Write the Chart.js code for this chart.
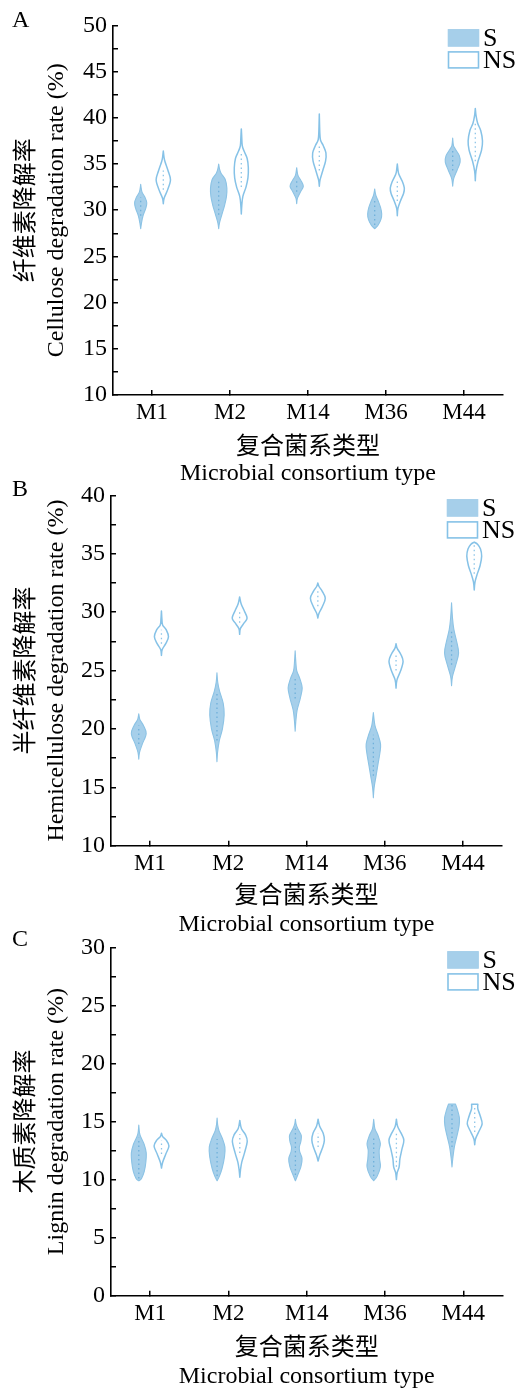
<!DOCTYPE html>
<html>
<head>
<meta charset="utf-8">
<script src="https://cdn.jsdelivr.net/npm/chart.js@4.4.1/dist/chart.umd.min.js"></script>
<style>
  html, body { margin: 0; padding: 0; background: #fff; width: 521px; height: 1388px; overflow: hidden; }
  canvas { position: absolute; left: 0; }
</style>
</head>
<body>
<canvas id="panelA" width="521" height="490" style="top:0px"></canvas>
<canvas id="panelB" width="521" height="470" style="top:470px"></canvas>
<canvas id="panelC" width="521" height="466" style="top:922px"></canvas>
<script>
// Consortium types on the x axis and the two treatments
const categories = ['M1', 'M2', 'M14', 'M36', 'M44'];
const seriesLabels = ['S', 'NS'];

// Density profiles: [degradation rate (%), relative density] from low to high value,
// one profile per consortium type.
const celluloseS = [
  [[28.0,0],[28.6,0.1],[29.4,0.3],[30.2,0.65],[30.8,0.78],[31.4,0.55],[31.9,0.2],[32.3,0.08],[32.8,0]],
  [[28.0,0],[28.6,0.1],[29.5,0.4],[30.5,0.75],[31.5,1.0],[32.4,1.05],[33.3,0.85],[34.0,0.3],[34.5,0.1],[35.0,0]],
  [[30.7,0],[31.3,0.1],[32.0,0.5],[32.6,0.85],[33.2,0.55],[33.8,0.15],[34.6,0]],
  [[28.0,0],[28.4,0.45],[29.0,0.8],[29.6,0.9],[30.3,0.75],[31.0,0.45],[31.6,0.15],[32.3,0]],
  [[32.6,0],[33.4,0.12],[34.3,0.55],[35.2,0.95],[35.9,0.85],[36.6,0.35],[37.0,0.1],[37.8,0]]
];
const celluloseNS = [
  [[30.7,0],[31.3,0.1],[32.2,0.55],[33.3,0.92],[34.3,0.6],[35.3,0.2],[35.8,0.08],[36.4,0]],
  [[29.6,0],[30.5,0.06],[31.5,0.2],[32.5,0.6],[33.5,0.85],[34.6,0.9],[35.6,0.75],[36.4,0.35],[37.0,0.12],[38.0,0.05],[38.8,0]],
  [[32.6,0],[33.3,0.1],[34.3,0.45],[35.3,0.8],[36.2,0.85],[37.0,0.5],[37.6,0.15],[38.5,0.06],[40.4,0]],
  [[29.4,0],[30.2,0.08],[31.0,0.4],[31.8,0.8],[32.4,0.9],[33.1,0.65],[33.9,0.2],[34.4,0.08],[35.0,0]],
  [[33.2,0],[34.2,0.08],[35.3,0.35],[36.5,0.8],[37.5,0.92],[38.6,0.7],[39.4,0.3],[40.2,0.1],[41.0,0]]
];
const hemicelluloseS = [
  [[17.4,0],[18.0,0.1],[18.7,0.45],[19.6,0.95],[20.3,0.6],[20.8,0.15],[21.3,0]],
  [[17.2,0],[18.0,0.08],[19.0,0.3],[20.0,0.7],[21.2,0.92],[22.2,0.8],[23.2,0.35],[24.0,0.1],[24.8,0]],
  [[19.8,0],[20.6,0.08],[21.6,0.25],[22.6,0.65],[23.5,0.9],[24.3,0.6],[25.0,0.2],[25.8,0.08],[26.7,0]],
  [[14.1,0],[15.0,0.1],[16.0,0.35],[17.0,0.6],[18.0,0.85],[18.7,0.92],[19.5,0.6],[20.3,0.2],[21.4,0]],
  [[23.7,0],[24.5,0.12],[25.5,0.55],[26.5,0.9],[27.5,0.65],[28.5,0.3],[29.5,0.12],[30.8,0]]
];
const hemicelluloseNS = [
  [[26.3,0],[26.8,0.1],[27.3,0.55],[27.9,0.9],[28.5,0.6],[28.9,0.15],[29.4,0.06],[30.1,0]],
  [[28.1,0],[28.6,0.1],[29.1,0.6],[29.5,0.95],[30.1,0.6],[30.7,0.2],[31.3,0]],
  [[29.5,0],[29.9,0.15],[30.5,0.6],[31.2,0.95],[31.8,0.55],[32.2,0.15],[32.5,0]],
  [[23.5,0],[24.2,0.12],[25.0,0.6],[25.8,0.9],[26.4,0.6],[26.9,0.15],[27.3,0]],
  [[31.9,0],[32.6,0.1],[33.3,0.4],[34.0,0.75],[34.8,0.95],[35.4,0.8],[35.8,0.45],[36.0,0]]
];
const ligninS = [
  [[9.9,0],[10.1,0.35],[10.7,0.7],[11.5,0.9],[12.3,0.95],[13.0,0.7],[13.6,0.3],[14.0,0.1],[14.7,0]],
  [[9.9,0],[10.3,0.3],[11.0,0.65],[12.0,0.95],[12.8,1.0],[13.5,0.7],[14.2,0.25],[14.7,0.08],[15.3,0]],
  [[9.9,0],[10.4,0.3],[11.1,0.7],[11.8,0.85],[12.4,0.55],[12.8,0.5],[13.3,0.7],[13.8,0.75],[14.4,0.3],[14.8,0.08],[15.2,0]],
  [[9.9,0],[10.3,0.45],[11.1,0.85],[11.8,0.75],[12.5,0.7],[13.1,0.85],[13.8,0.55],[14.4,0.15],[15.2,0]],
  [[11.1,0],[11.8,0.1],[12.8,0.3],[13.8,0.65],[14.6,0.9],[15.3,0.95],[16.0,0.7],[16.5,0.45]]
];
const ligninNS = [
  [[11.0,0],[11.5,0.15],[12.2,0.55],[12.9,0.95],[13.4,0.6],[13.7,0.15],[14.0,0]],
  [[10.2,0],[10.8,0.08],[11.5,0.25],[12.3,0.6],[13.3,0.95],[13.9,0.7],[14.4,0.2],[15.1,0]],
  [[11.6,0],[12.1,0.2],[12.8,0.6],[13.4,0.8],[14.0,0.65],[14.6,0.2],[15.2,0]],
  [[10.0,0],[10.6,0.1],[11.1,0.35],[11.8,0.45],[12.6,0.7],[13.4,0.95],[14.0,0.6],[14.6,0.15],[15.2,0]],
  [[13.0,0],[13.5,0.1],[14.1,0.5],[14.8,0.95],[15.5,0.7],[16.1,0.4],[16.5,0.4]]
];

// Value axis ranges and tick labels
const celluloseRange = [10, 50];
const hemicelluloseRange = [10, 40];
const ligninRange = [0, 30];
const majorStep = 5;
const minorStep = 2.5;

const xTitle = ['复合菌系类型', 'Microbial consortium type'];
const celluloseTitle = ['纤维素降解率', 'Cellulose degradation rate (%)'];
const hemicelluloseTitle = ['半纤维素降解率', 'Hemicellulose degradation rate (%)'];
const ligninTitle = ['木质素降解率', 'Lignin degradation rate (%)'];

const FONT = "'Liberation Serif', 'Noto Sans CJK SC', serif";
const S_FILL = '#a6cfea';
const S_LINE = '#8cc3e5';
const NS_LINE = '#86c2e7';
const S_DOTS = '#6fb0da';
const NS_DOTS = '#8fc6e8';

Chart.defaults.font.family = FONT;
Chart.defaults.color = '#000';

// Value at which each profile is densest
function peakValue(profile) {
  let best = profile[0];
  profile.forEach(k => { if (k[1] > best[1]) best = k; });
  return best[0];
}

// Smooth path through a list of pixel points (Catmull-Rom as cubic Béziers)
function splineThrough(ctx, pts, startWithMove) {
  if (startWithMove) ctx.moveTo(pts[0][0], pts[0][1]); else ctx.lineTo(pts[0][0], pts[0][1]);
  for (let i = 0; i < pts.length - 1; i++) {
    const p0 = pts[i - 1] || pts[i];
    const p1 = pts[i];
    const p2 = pts[i + 1];
    const p3 = pts[i + 2] || pts[i + 1];
    const c1x = p1[0] + (p2[0] - p0[0]) / 6, c1y = p1[1] + (p2[1] - p0[1]) / 6;
    const c2x = p2[0] - (p3[0] - p1[0]) / 6, c2y = p2[1] - (p3[1] - p1[1]) / 6;
    ctx.bezierCurveTo(c1x, c1y, c2x, c2y, p2[0], p2[1]);
  }
}

// Draws each dataset's density profiles as violins on the chart's own scales
const violinPlugin = {
  id: 'violins',
  afterDatasetsDraw(chart) {
    const ctx = chart.ctx;
    const xs = chart.scales.x, ys = chart.scales.y;
    const band = xs.getPixelForValue(1) - xs.getPixelForValue(0);
    const halfMax = 0.1 * band;
    ctx.save();
    chart.data.datasets.forEach(ds => {
      ds.profiles.forEach((profile, i) => {
        const cx = xs.getPixelForValue(i) + ds.shift * band;
        const right = profile.map(k => [cx + k[1] * halfMax, ys.getPixelForValue(k[0])]);
        const left = profile.map(k => [cx - k[1] * halfMax, ys.getPixelForValue(k[0])]).reverse();
        ctx.beginPath();
        splineThrough(ctx, right, true);
        splineThrough(ctx, left, false);
        ctx.closePath();
        ctx.fillStyle = ds.filled ? S_FILL : '#fff';
        ctx.fill();
        ctx.lineWidth = ds.filled ? 1.1 : 1.5;
        ctx.strokeStyle = ds.filled ? S_LINE : NS_LINE;
        ctx.lineJoin = 'round';
        ctx.stroke();
        // dotted centre line across the dense part of the distribution
        const maxW = Math.max(...profile.map(k => k[1]));
        const dense = profile.filter(k => k[1] >= 0.3 * maxW);
        const lo = ys.getPixelForValue(dense[0][0]);
        const hi = ys.getPixelForValue(dense[dense.length - 1][0]);
        ctx.beginPath();
        ctx.setLineDash([1.5, 3]);
        ctx.lineWidth = 1.3;
        ctx.strokeStyle = ds.filled ? S_DOTS : NS_DOTS;
        ctx.moveTo(cx, lo);
        ctx.lineTo(cx, hi);
        ctx.stroke();
        ctx.setLineDash([]);
      });
    });
    ctx.restore();
  }
};

// Panel letter and the S / NS key in the upper right of the plot
const decorPlugin = {
  id: 'decor',
  afterDraw(chart) {
    const ctx = chart.ctx;
    const opts = chart.options.plugins.decor;
    const ca = chart.chartArea;
    ctx.save();
    ctx.fillStyle = '#000';
    ctx.font = '24px ' + FONT;
    ctx.textBaseline = 'alphabetic';
    ctx.textAlign = 'left';
    ctx.fillText(opts.letter, 12, opts.letterBaseline);

    const bx = ca.right - 55, bw = 31, bh = 17;
    const rows = [ca.top + 4, ca.top + 26];
    seriesLabels.forEach((name, i) => {
      const by = rows[i];
      ctx.fillStyle = i === 0 ? S_FILL : '#fff';
      ctx.fillRect(bx, by, bw, bh);
      ctx.lineWidth = 1.6;
      ctx.strokeStyle = i === 0 ? S_FILL : NS_LINE;
      ctx.strokeRect(bx + 0.5, by + 0.5, bw - 1, bh - 1);
      ctx.fillStyle = '#000';
      ctx.font = '26px ' + FONT;
      ctx.fillText(name, ca.right - 20, by + bh);
    });
    ctx.restore();
  }
};

function makePanel(id, p) {
  new Chart(document.getElementById(id), {
    type: 'line',
    data: {
      labels: categories,
      datasets: [
        { label: seriesLabels[0], data: p.s.map(peakValue), profiles: p.s, shift: -0.145, filled: true,
          showLine: false, pointRadius: 0 },
        { label: seriesLabels[1], data: p.ns.map(peakValue), profiles: p.ns, shift: 0.145, filled: false,
          showLine: false, pointRadius: 0 }
      ]
    },
    options: {
      responsive: false,
      animation: false,
      devicePixelRatio: 1,
      events: [],
      layout: { padding: { top: p.padTop, right: p.padRight, bottom: 0, left: 0 } },
      plugins: {
        legend: { display: false },
        tooltip: { enabled: false },
        decor: { letter: p.letter, letterBaseline: p.letterBaseline }
      },
      scales: {
        x: {
          type: 'category',
          offset: true,
          grid: { offset: false, drawOnChartArea: false, drawTicks: true, tickLength: -5, color: '#000', lineWidth: 1.5 },
          border: { display: true, color: '#000', width: 1.6 },
          ticks: { font: { size: 23 }, color: '#000', padding: 9, autoSkip: false, maxRotation: 0 },
          title: { display: true, text: xTitle, color: '#000', font: { size: 24, lineHeight: p.xTitleLH },
                   padding: { top: 0, bottom: p.titlePadBottom } },
          afterFit(scale) { scale.height = p.xHeight; }
        },
        y: {
          type: 'linear',
          min: p.range[0],
          max: p.range[1],
          grid: { drawOnChartArea: false, drawTicks: true, tickLength: -5, color: '#000', lineWidth: 1.5 },
          border: { display: true, color: '#000', width: 1.6 },
          ticks: {
            stepSize: minorStep,
            autoSkip: false,
            font: { size: 24 },
            color: '#000',
            padding: 11,
            callback: v => (v % majorStep === 0 ? String(v) : '')
          },
          title: { display: true, text: p.yTitle, color: '#000', font: { size: 24, lineHeight: 1.25 },
                   padding: { top: 12, bottom: 0 } },
          afterFit(scale) { scale.width = p.yWidth; }
        }
      }
    },
    plugins: [violinPlugin, decorPlugin]
  });
}

makePanel('panelA', {
  s: celluloseS, ns: celluloseNS, range: celluloseRange, yTitle: celluloseTitle,
  letter: 'A', letterBaseline: 27,
  padTop: 24, padRight: 18, yWidth: 113, xHeight: 95, titlePadBottom: 3.8, xTitleLH: 1.08
});
makePanel('panelB', {
  s: hemicelluloseS, ns: hemicelluloseNS, range: hemicelluloseRange, yTitle: hemicelluloseTitle,
  letter: 'B', letterBaseline: 26,
  padTop: 25, padRight: 19, yWidth: 111, xHeight: 94.3, titlePadBottom: 0.4, xTitleLH: 1.2
});
makePanel('panelC', {
  s: ligninS, ns: ligninNS, range: ligninRange, yTitle: ligninTitle,
  letter: 'C', letterBaseline: 24,
  padTop: 24.7, padRight: 18.5, yWidth: 111, xHeight: 92.3, titlePadBottom: -3.6, xTitleLH: 1.2
});
</script>
</body>
</html>
